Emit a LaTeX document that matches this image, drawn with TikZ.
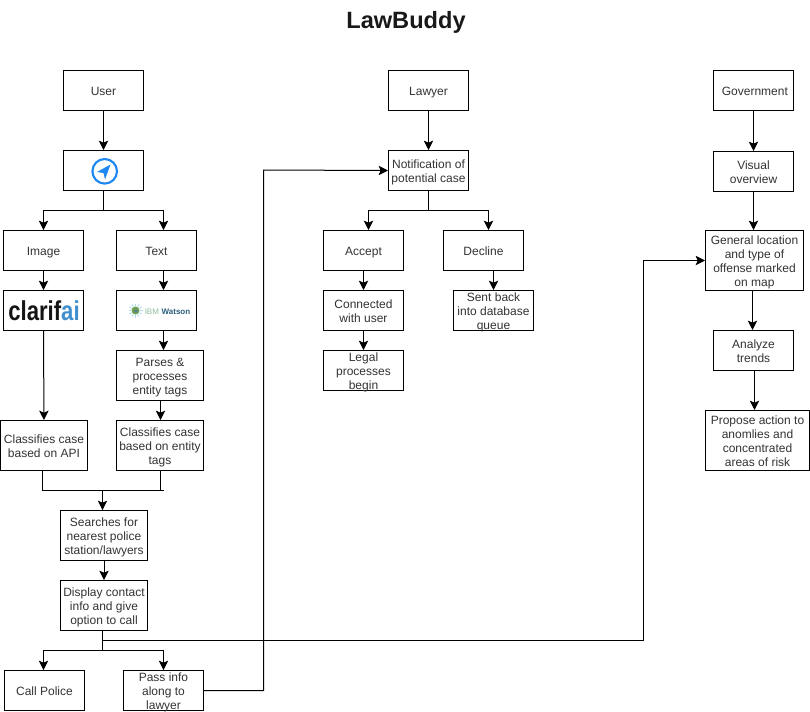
\documentclass[tikz,border=0pt]{standalone}
\usepackage{fontspec}
\setmainfont{Liberation Sans}
\usetikzlibrary{arrows.meta,calc}
\definecolor{txt}{HTML}{333333}
\definecolor{navblue}{HTML}{1E88F0}
\definecolor{clarblue}{HTML}{3F8FCF}
\definecolor{wnavy}{HTML}{2C5F7C}
\definecolor{wgreen}{HTML}{8FBF9F}
\definecolor{wring}{HTML}{A9DDF0}
\definecolor{wglobe}{HTML}{6F9F4F}
\def\px{0.75pt}
\tikzset{
 x=0.75pt,y=-0.75pt,
 box/.style={draw=black,line width=0.75pt,fill=white,inner sep=0pt,font=\fontsize{9}{10.5}\selectfont,text=txt,anchor=center},
 link/.style={draw=black,line width=0.75pt,-{Stealth[length=7pt,width=7pt,inset=1.5pt]}},
 plain/.style={draw=black,line width=0.75pt},
}
\newcommand{\bx}[6]{\node[box,minimum width=#3*0.75pt,minimum height=#4*0.75pt] (#1) at (#5,#6) {\raisebox{-3.8pt}[0pt][0pt]{\begin{tabular}{@{}c@{}}#2\end{tabular}}};}
\begin{document}
\begin{tikzpicture}
\useasboundingbox (0,0) rectangle (810,711);
\begin{scope}[shift={(0.5,0.5)}]
\node[font=\bfseries\fontsize{17.7}{20}\selectfont,text=black!90] (title) at (405.5,22) {LawBuddy};
\bx{user}{User}{80}{40}{103}{90}
\bx{nav}{}{80}{40}{103}{170}
\bx{image}{Image}{80}{40}{43}{250}
\bx{textb}{Text}{80}{40}{156}{250}
\bx{clar}{}{80}{40}{43}{310}
\bx{wat}{}{80}{40}{156}{310}
\bx{parse}{Parses \&\\processes\\entity tags}{87}{50}{159.5}{375}
\bx{capi}{Classifies case\\based on API}{87}{50}{43.5}{445}
\bx{ctag}{Classifies case\\based on entity\\tags}{87}{50}{159.5}{445}
\bx{search}{Searches for\\nearest police\\station/lawyers}{87}{50}{103.5}{535}
\bx{disp}{Display contact\\info and give\\option to call}{87}{50}{103.5}{605}
\bx{police}{Call Police}{80}{40}{44}{690}
\bx{pass}{Pass info\\along to\\lawyer}{80}{40}{163}{690}
\bx{lawyer}{Lawyer}{80}{40}{428}{90}
\bx{notif}{Notification of\\potential case}{80}{40}{428}{170}
\bx{accept}{Accept}{80}{40}{363}{250}
\bx{decline}{Decline}{80}{40}{483}{250}
\bx{conn}{Connected\\with user}{80}{40}{363}{310}
\bx{sent}{Sent back\\into database\\queue}{80}{40}{493}{310}
\bx{legal}{Legal\\processes\\begin}{80}{40}{363}{370}
\bx{gov}{\hspace*{2pt}Government}{80}{40}{753}{90}
\bx{vis}{Visual\\overview}{80}{40}{753}{171}
\bx{gen}{General location\\and type of\\offense marked\\on map}{98}{60}{754}{260}
\bx{ana}{Analyze\\trends}{80}{40}{753}{350}
\bx{prop}{Propose action to\\anomlies and\\concentrated\\areas of risk}{104}{60}{757}{440}
% logos
\draw[line width=1.6pt,navblue] (104.2,170.8) circle[radius=12.3];
\fill[navblue] (110,164) -- (96.5,171.5) -- (103,172.5) -- (104.5,179) -- cycle;
\node[font=\bfseries\fontsize{20.5}{20}\selectfont,inner sep=0pt,xscale=0.81,transform shape] (clarlogo) at (43.5,310) {\textcolor{black!92}{clarif}\textcolor{clarblue}{ai}};
\foreach \a in {0,30,...,330}{\draw[wring,line width=0.7pt] (135,310) ++(\a:4.5) -- ++(\a:2.5);}
\fill[wglobe] (135,310) circle[radius=4];
\fill[wnavy!80] (135.5,310.5) circle[radius=1.8];
\node[font=\fontsize{6}{7}\selectfont,inner sep=0pt,anchor=west] (watlogo) at (144,311) {\textcolor{wgreen}{IBM}\hspace{2pt}\textcolor{wnavy}{\textbf{Watson}}};
% connectors
\draw[link] (user) -- (nav);
\coordinate (n1) at (103,210);
\draw[plain] (nav) -- (n1);
\draw[link] (n1) -| (image);
\draw[link] (n1) -| ([xshift=7*\px]textb.north);
\draw[link] (image) -- (clar);
\draw[link] ([xshift=7*\px]textb.south) -- ([xshift=7*\px]wat.north);
\draw[link] ([xshift=7*\px]wat.south) -- ([xshift=3.5*\px]parse.north);
\draw[link] ([xshift=0.5*\px]parse.south) -- ([xshift=0.5*\px]ctag.north);
\draw[link] (clar) -- (capi);
\coordinate (n2) at (102,490);
\coordinate (n6) at (163,490);
\draw[plain] ([xshift=-1.5*\px]capi.south) |- (n6);
\draw[plain] ([xshift=0.5*\px]ctag.south) -- ([xshift=0.5*\px]ctag.south|-n6);
\draw[link] (n2) -- ([xshift=-1.5*\px]search.north);
\draw[link] (search) -- (disp);
\coordinate (n3) at (102,650);
\coordinate (n5) at (102,640);
\draw[plain] ([xshift=-1.5*\px]disp.south) -- (n3);
\draw[link] (n3) -| ([xshift=-1*\px]police.north);
\draw[link] (n3) -| (pass);
\coordinate (c1) at (263,690);
\coordinate (c2) at (263,169.5);
\draw[link] (pass.east) -- (c1) -- (c2) -- (notif.west);
\coordinate (c3) at (643,640);
\coordinate (c4) at (643,260);
\draw[link] (n5) -- (c3) -- (c4) -- (gen.west);
\draw[link] (lawyer) -- (notif);
\coordinate (n4) at (428,210);
\draw[plain] (notif) -- (n4);
\draw[link] (n4) -| ([xshift=5*\px]accept.north);
\draw[link] (n4) -| ([xshift=5*\px]decline.north);
\draw[link] (accept) -- (conn);
\draw[link] ([xshift=10*\px]decline.south) -- (sent.north);
\draw[link] (conn) -- (legal);
\draw[link] (gov) -- (vis);
\draw[link] (vis) -- ([xshift=-1*\px]gen.north);
\draw[link] ([xshift=-2*\px]gen.south) -- ([xshift=-1*\px]ana.north);
\draw[link] ([xshift=1*\px]ana.south) -- ([xshift=-3*\px]prop.north);
\end{scope}
\end{tikzpicture}
\end{document}
